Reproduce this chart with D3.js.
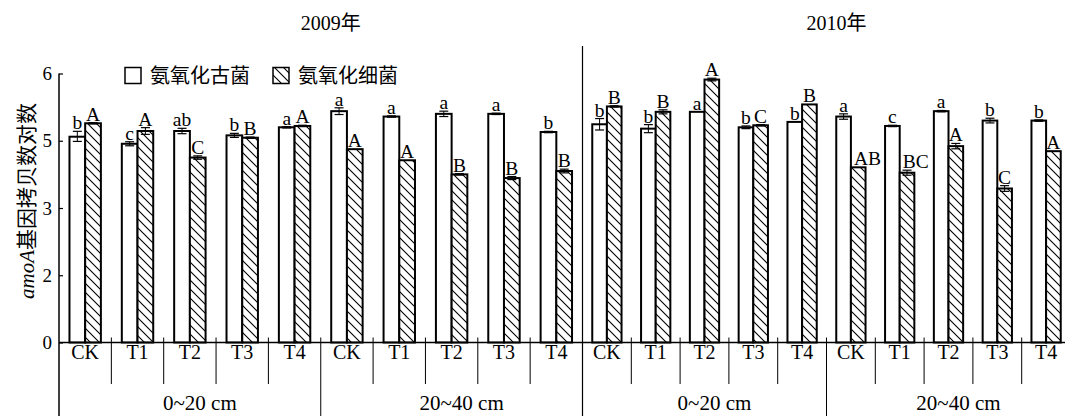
<!DOCTYPE html>
<html>
<head>
<meta charset="utf-8">
<script src="https://cdn.jsdelivr.net/npm/d3@7"></script>
<style>
  html, body { margin: 0; padding: 0; background: #fff; }
  svg { display: block; }
  text { font-family: "Liberation Serif", "Noto Sans CJK SC", serif; fill: #000; }
</style>
</head>
<body>
<svg id="chart" width="1065" height="416"></svg>
<script>
// ---------------- data ----------------
const years = ["2009年", "2010年"];
const depths = ["0~20 cm", "20~40 cm"];
const treatments = ["CK", "T1", "T2", "T3", "T4"];
const seriesNames = ["氨氧化古菌", "氨氧化细菌"];
const yTicks = [0, 2, 3, 5, 6];

// values per year: first 5 = 0~20 cm, next 5 = 20~40 cm
const aoa2009 = [5.06, 4.91, 5.145, 5.08, 5.20, 5.44, 5.36, 5.40, 5.40, 5.13];
const aob2009 = [5.26, 5.145, 4.50, 5.045, 5.22, 4.75, 4.42, 4.00, 3.89, 4.10];
const aoa2010 = [5.245, 5.18, 5.43, 5.20, 5.28, 5.36, 5.22, 5.44, 5.30, 5.30];
const aob2010 = [5.51, 5.43, 5.91, 5.23, 5.54, 4.21, 4.05, 4.84, 3.58, 4.69];

const aoaErr2009 = [0.08, 0.06, 0.04, 0.03, 0.01, 0.05, 0.01, 0.04, 0.01, 0.01];
const aobErr2009 = [0.01, 0.05, 0.05, 0.01, 0.01, 0, 0, 0.02, 0.045, 0.055];
const aoaErr2010 = [0.085, 0.06, 0, 0.02, 0, 0.04, 0.01, 0.01, 0.035, 0.01];
const aobErr2010 = [0.01, 0.03, 0.02, 0.01, 0, 0, 0.075, 0.08, 0.085, 0];

const aoaLetters2009 = ["b", "c", "ab", "b", "a", "a", "a", "a", "a", "b"];
const aobLetters2009 = ["A", "A", "C", "B", "A", "A", "A", "B", "B", "B"];
const aoaLetters2010 = ["b", "b", "a", "b", "b", "a", "c", "a", "b", "b"];
const aobLetters2010 = ["B", "B", "A", "C", "B", "AB", "BC", "A", "C", "A"];

const yearData = [
  { year: years[0], aoa: aoa2009, aob: aob2009, aoaErr: aoaErr2009, aobErr: aobErr2009, aoaL: aoaLetters2009, aobL: aobLetters2009 },
  { year: years[1], aoa: aoa2010, aob: aob2010, aoaErr: aoaErr2010, aobErr: aobErr2010, aoaL: aoaLetters2010, aobL: aobLetters2010 }
];

// ---------------- layout ----------------
const svg = d3.select("#chart");
const W = 1065, H = 416;
const yBottom = 342.5, yTop = 73.5;
const axisX = 59;
const panelRanges = [[59, 582.5], [582.5, 1070.5]];

// piecewise (polylinear) scale with equally spaced tick positions
const y = d3.scaleLinear()
  .domain(yTicks)
  .range(yTicks.map((t, i) => yBottom - i * (yBottom - yTop) / (yTicks.length - 1)));

// hatch pattern
const defs = svg.append("defs");
const pat = defs.append("pattern")
  .attr("id", "hatch")
  .attr("patternUnits", "userSpaceOnUse")
  .attr("width", 9).attr("height", 9);
pat.append("rect").attr("width", 9).attr("height", 9).attr("fill", "#fff");
pat.append("path")
  .attr("d", "M-1,-1 L10,10 M-1,8 L1,10 M8,-1 L10,1")
  .attr("stroke", "#000").attr("stroke-width", 1.1);

const keys = [];
depths.forEach(d => treatments.forEach(t => keys.push(d + "|" + t)));

yearData.forEach((yd, pi) => {
  const x = d3.scaleBand().domain(keys).range(panelRanges[pi]).padding(0);
  const bw = x.bandwidth();
  const xs = d3.scaleBand().domain(seriesNames).range([bw * 0.2, bw * 0.8]);
  const g = svg.append("g");

  const rows = [];
  keys.forEach((k, i) => {
    rows.push({ k, s: seriesNames[0], v: yd.aoa[i], e: yd.aoaErr[i], l: yd.aoaL[i] });
    rows.push({ k, s: seriesNames[1], v: yd.aob[i], e: yd.aobErr[i], l: yd.aobL[i] });
  });

  // bars
  g.selectAll("rect.bar").data(rows).join("rect")
    .attr("class", "bar")
    .attr("x", d => x(d.k) + xs(d.s))
    .attr("width", xs.bandwidth())
    .attr("y", d => y(d.v))
    .attr("height", d => y(0) - y(d.v))
    .attr("fill", d => d.s === seriesNames[0] ? "#fff" : "url(#hatch)")
    .attr("stroke", "#000")
    .attr("stroke-width", 2);

  // error bars
  const eb = g.selectAll("g.err").data(rows.filter(d => d.e > 0)).join("g").attr("class", "err");
  const cx = d => x(d.k) + xs(d.s) + xs.bandwidth() / 2;
  eb.append("line")
    .attr("x1", cx).attr("x2", cx)
    .attr("y1", d => y(d.v + d.e)).attr("y2", d => y(d.v - d.e))
    .attr("stroke", "#000").attr("stroke-width", 1);
  eb.append("line")
    .attr("x1", d => cx(d) - 4.5).attr("x2", d => cx(d) + 4.5)
    .attr("y1", d => y(d.v + d.e)).attr("y2", d => y(d.v + d.e))
    .attr("stroke", "#000").attr("stroke-width", 1.2);
  eb.append("line")
    .attr("x1", d => cx(d) - 4.5).attr("x2", d => cx(d) + 4.5)
    .attr("y1", d => y(d.v - d.e)).attr("y2", d => y(d.v - d.e))
    .attr("stroke", "#000").attr("stroke-width", 1.2);

  // significance letters (two-letter labels of the hatched bar start at its left edge)
  const wide = d => d.s === seriesNames[1] && d.l.length > 1;
  g.selectAll("text.sig").data(rows).join("text")
    .attr("class", "sig")
    .attr("x", d => wide(d) ? x(d.k) + xs(d.s) + 3 : cx(d))
    .attr("y", d => y(d.v + d.e) - 2)
    .attr("text-anchor", d => wide(d) ? "start" : "middle")
    .attr("font-size", 19.5)
    .text(d => d.l);

  // category labels
  g.selectAll("text.cat").data(keys).join("text")
    .attr("class", "cat")
    .attr("x", k => x(k) + bw / 2)
    .attr("y", 359)
    .attr("text-anchor", "middle")
    .attr("font-size", 20)
    .text(k => k.split("|")[1]);

  // separators between categories
  keys.forEach((k, i) => {
    if (i === 0) return;
    const xx = x(k);
    const isGroup = k.split("|")[1] === treatments[0];
    g.append("line")
      .attr("x1", xx).attr("x2", xx)
      .attr("y1", yBottom - 5).attr("y2", isGroup ? H : 384)
      .attr("stroke", "#000").attr("stroke-width", 1);
  });

  // depth group labels
  depths.forEach(dp => {
    const x0 = x(dp + "|" + treatments[0]);
    const x1 = x(dp + "|" + treatments[treatments.length - 1]) + bw;
    g.append("text")
      .attr("x", (x0 + x1) / 2 + 10)
      .attr("y", 410)
      .attr("text-anchor", "middle")
      .attr("font-size", 21)
      .text(dp);
  });

  // year title
  g.append("text")
    .attr("x", (panelRanges[pi][0] + panelRanges[pi][1]) / 2 + 10)
    .attr("y", 30)
    .attr("text-anchor", "middle")
    .attr("font-size", 20)
    .text(yd.year);
});

// year separator line
svg.append("line")
  .attr("x1", panelRanges[1][0]).attr("x2", panelRanges[1][0])
  .attr("y1", 46).attr("y2", H)
  .attr("stroke", "#000").attr("stroke-width", 1.2);

// x axis baseline
svg.append("line")
  .attr("x1", axisX).attr("x2", W)
  .attr("y1", yBottom).attr("y2", yBottom)
  .attr("stroke", "#000").attr("stroke-width", 1.5);

// y axis
const yAxis = d3.axisRight(y).tickValues(yTicks).tickSize(4).tickSizeOuter(0).tickFormat(d3.format("d"));
const ya = svg.append("g").attr("transform", `translate(${axisX},0)`).call(yAxis);
ya.select(".domain").remove();
ya.selectAll(".tick line").attr("stroke", "#000").attr("stroke-width", 1.2);
ya.selectAll(".tick text")
  .attr("x", -7).attr("text-anchor", "end")
  .attr("font-size", 19)
  .attr("font-family", "Liberation Serif, serif")
  .attr("fill", "#000");
svg.append("line")
  .attr("x1", axisX).attr("x2", axisX)
  .attr("y1", yTop).attr("y2", H)
  .attr("stroke", "#000").attr("stroke-width", 1.5);

// y axis title
const yt = svg.append("text")
  .attr("transform", "translate(34,201) rotate(-90)")
  .attr("text-anchor", "middle")
  .attr("font-size", 21);
yt.append("tspan").attr("font-style", "italic").text("amoA");
yt.append("tspan").text("基因拷贝数对数");

// legend
const lg = svg.append("g");
const legX = [125, 273];
seriesNames.forEach((s, i) => {
  lg.append("rect")
    .attr("x", legX[i]).attr("y", 67.5)
    .attr("width", 16).attr("height", 16)
    .attr("fill", i === 0 ? "#fff" : "url(#hatch)")
    .attr("stroke", "#000").attr("stroke-width", 1.5);
  lg.append("text")
    .attr("x", legX[i] + 25).attr("y", 83)
    .attr("font-size", 20)
    .text(s);
});
</script>
</body>
</html>
